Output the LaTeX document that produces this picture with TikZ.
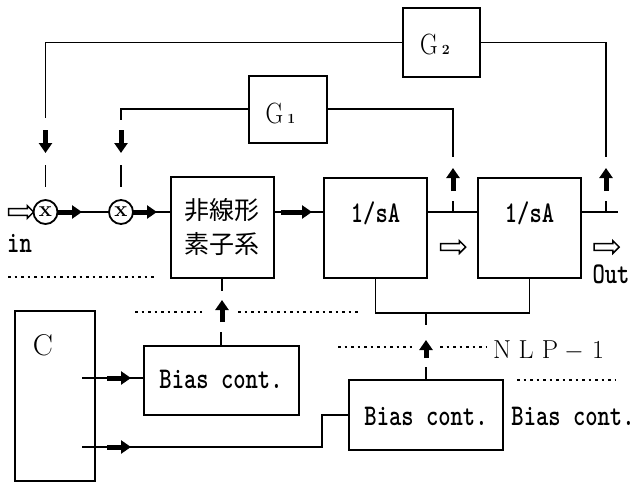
\documentclass[tikz,border=0pt]{standalone}
\usepackage{fontspec}
\usepackage{graphicx}
\newfontfamily\cjkfont{Noto Sans CJK JP}
\usetikzlibrary{arrows.meta,shapes.arrows}
\newcommand\monotxt[1]{\scalebox{0.82}[1.05]{#1}}
\newcommand\gtxt[2]{\scalebox{0.83}[1]{G}\hspace{4pt}{\fontsize{14}{14}\selectfont\bfseries #2}}
\tikzset{
  blk/.style={draw, line width=2pt, inner sep=0pt},
  wire/.style={line width=1.8pt},
  thk/.style={line width=5pt, -{Triangle[length=10pt,width=13pt]}},
  dotln/.style={line width=2.6pt, dash pattern=on 2.6pt off 3.9pt},
  mono/.style={font=\fontsize{28.6}{30}\selectfont\ttfamily\bfseries, inner sep=0pt},
  serif/.style={font=\fontsize{29.3}{29.3}\selectfont, inner sep=0pt},
  hollow/.style={single arrow, draw, line width=1.5pt, minimum height=25pt,
    inner xsep=0pt, inner ysep=2.6pt, single arrow head extend=3pt},
  mult/.style={circle, draw, line width=1.8pt, minimum size=24pt, inner sep=0pt,
    font=\fontsize{22}{22}\selectfont\bfseries},
}
\begin{document}
\begin{tikzpicture}[x=1pt,y=-1pt]
\useasboundingbox (0,0) rectangle (636,482);
% blocks
\node[blk, minimum width=77pt, minimum height=69pt] (g2) at (441.5,42.5) {};
\node[blk, minimum width=78pt, minimum height=67pt] (g1) at (287.5,109) {};
\node[blk, minimum width=103pt, minimum height=101pt, align=center,
  font=\cjkfont\fontsize{25}{34}\selectfont] (nl) at (222,227.5) {非線形\\素子系};
\node[blk, minimum width=103pt, minimum height=100pt] (i1) at (375.5,228) {};
\node[blk, minimum width=103pt, minimum height=100pt] (i2) at (529.5,228) {};
\node[blk, minimum width=155pt, minimum height=69pt] (b1) at (221,380.5) {};
\node[blk, minimum width=154pt, minimum height=70pt] (b2) at (426,415) {};
\node[blk, minimum width=80pt, minimum height=170pt] (cb) at (55,396) {};
% labels
\node[serif, anchor=base] (g2t) at (435,54) {\gtxt{G}{2}};
\node[serif, anchor=base] (g1t) at (280.5,123) {\gtxt{G}{1}};
\node[mono, anchor=base] (i1t) at (375.5,222) {\monotxt{1/sA}};
\node[mono, anchor=base] (i2t) at (529.5,222) {\monotxt{1/sA}};
\node[mono, anchor=base] (b1t) at (221,388) {\monotxt{Bias cont.}};
\node[mono, anchor=base] (b2t) at (426,425) {\monotxt{Bias cont.}};
\node[mono, anchor=base] (b3t) at (573,425) {\monotxt{Bias cont.}};
\node[mono, anchor=base] (int) at (19.5,252) {\monotxt{in}};
\node[mono, anchor=base] (outt) at (611,283) {\monotxt{Out}};
\node[serif, anchor=base, font=\fontsize{30}{30}\selectfont] (ct) at (43,355) {C};
\node[serif, anchor=base, font=\fontsize{26}{26}\selectfont] (nlp) at (550,358)
  {\makebox[24pt]{N}\makebox[24pt]{L}\makebox[24pt]{P}\makebox[24pt]{$-$}\makebox[24pt]{1}};
% hollow arrows
\node[hollow] (ha1) at (19.5,212) {};
\node[hollow] (ha2) at (451.5,247) {};
\node[hollow] (ha3) at (605,247) {};
% multipliers
\node[mult] (m1) at (45.5,212) {x};
\node[mult] (m2) at (121,212) {x};
% coordinates
\coordinate (d1) at (45.5,118);
\coordinate (d2) at (121,120);
\coordinate (u1) at (453,157);
\coordinate (u2) at (606,157);
\coordinate (oe) at (618,212);
\coordinate (j) at (426,313);
\coordinate (c1) at (82,378);
\coordinate (c2) at (82,447);
% feedback wires
\draw[wire] (g2.west) -| (d1);
\draw[wire] (g2.east) -| (u2);
\draw[wire] (g1.west) -| (d2);
\draw[wire] (g1.east) -| (u1);
\draw[thk] (45.5,130) -- (45.5,153);
\draw[thk] (121,130) -- (121,153);
\draw[wire] (45.5,165) -- (45.5,187);
\draw[wire] (121,165) -- (121,187);
\draw[thk] (453,191) -- (453,168);
\draw[thk] (606,191) -- (606,168);
\draw[wire] (453,212) -- (453,201);
\draw[wire] (606,212) -- (606,201);
% main line
\draw[wire] (m1) -- (m2);
\draw[wire] (m2) -- (m2 -| nl.west);
\draw[wire] (nl.east |- m2) -- (i1.west |- m2);
\draw[wire] (i1.east |- m2) -- (i2.west |- m2);
\draw[wire] (i2.east |- m2) -- (oe);
\draw[thk] (57.5,212) -- (82,212);
\draw[thk] (133,212) -- (157,212);
\draw[thk] (281,212) -- (312,212);
% bias paths
\draw[wire] (nl.south) -- ++(0,12);
\draw[thk] (222,322) -- (222,300);
\draw[wire] (b1.north) -- ++(0,-13);
\draw[wire] (i1.south) |- (j) -| (i2.south);
\draw[wire] (j) -- ++(0,12);
\draw[thk] (426,358) -- (426,340);
\draw[wire] (b2.north) -- ++(0,-12);
\draw[wire] (c1) -- (c1 -| b1.west);
\draw[thk] (107,378) -- (131,378);
\draw[wire] (c2) -- ++(240,0) |- (b2.west);
\draw[thk] (107,447) -- (131,447);
% dotted lines
\draw[dotln] (8,277) -- (157,277);
\draw[dotln] (135,312) -- (202,312);
\draw[dotln] (238,312) -- (358,312);
\draw[dotln] (338,347) -- (415,347);
\draw[dotln] (440,347) -- (487,347);
\draw[dotln] (517,380) -- (615,380);
\end{tikzpicture}
\end{document}
